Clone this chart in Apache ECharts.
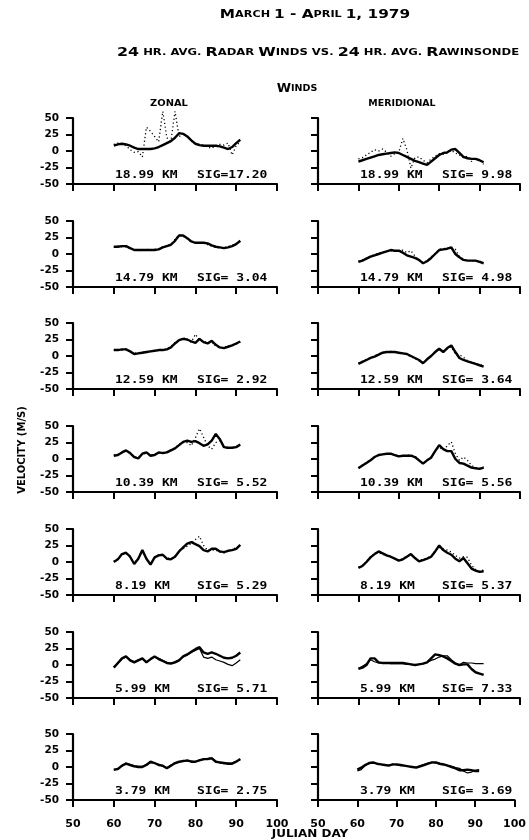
<!DOCTYPE html>
<html><head><meta charset="utf-8">
<script src="https://cdn.jsdelivr.net/npm/echarts@6/dist/echarts.min.js"></script>
<style>html,body{margin:0;padding:0;background:#fff}#c{width:529px;height:840px}</style>
</head><body><div id="c"></div>
<script>
// ---- data ----
const days = [60,61,62,63,64,65,66,67,68,69,70,71,72,73,74,75,76,77,78,79,80,81,82,83,84,85,86,87,88,89,90,91];
const heights = ["18.99","14.79","12.59","10.39","8.19","5.99","3.79"];
const sigZonal = ["17.20"," 3.04"," 2.92"," 5.52"," 5.29"," 5.71"," 2.75"];
const sigMerid = [" 9.98"," 4.98"," 3.64"," 5.56"," 5.37"," 7.33"," 3.69"];
const xTicks = [50,60,70,80,90,100];
const yTicks = [-50,-25,0,25,50];

// zonal, radar (solid) and rawinsonde (dotted)
const zonal1899Radar = [8,10,11,10,8,5,3,3,3,3,4,6,9,12,15,20,27,26,22,16,11,9,8,8,8,8,7,5,3,6,12,17];
const zonal1899Rawin = [10,12,10,8,2,-2,-1,-9,36,30,22,14,60,20,15,60,22,25,22,15,11,10,9,6,4,8,10,9,12,-6,8,14];
const zonal1479Radar = [11,11,12,12,9,6,6,6,6,6,6,7,10,12,14,20,28,28,24,19,17,17,17,16,13,11,10,9,10,12,15,20];
const zonal1479Rawin = [10,12,11,11,8,7,5,6,7,6,7,8,11,12,15,22,29,27,23,18,18,16,18,14,12,10,9,10,11,13,16,19];
const zonal1259Radar = [9,9,10,10,7,3,4,5,6,7,8,9,9,10,13,19,24,26,25,22,20,26,21,19,23,17,13,12,14,16,19,22];
const zonal1259Rawin = [9,10,9,11,6,4,5,6,5,7,8,8,10,11,14,20,23,28,24,21,33,24,22,20,21,15,12,13,15,17,18,21];
const zonal1039Radar = [5,6,10,13,9,3,1,8,10,5,6,10,9,10,13,16,21,26,28,26,27,24,20,22,28,38,30,18,17,17,18,22];
const zonal1039Rawin = [6,7,9,12,8,4,2,7,9,6,7,9,10,11,14,17,22,25,25,20,32,46,33,20,15,25,28,17,16,17,19,21];
const zonal0819Radar = [0,4,12,14,8,-3,5,18,5,-4,7,10,11,5,4,8,16,22,28,30,27,24,18,16,20,20,16,15,17,18,20,26];
const zonal0819Rawin = [1,5,11,13,7,-2,6,16,6,-3,6,11,10,6,5,9,17,20,24,28,34,39,25,18,18,18,15,14,16,19,22,24];
const zonal0599Radar = [-4,3,10,13,7,4,7,10,4,9,13,9,6,3,2,4,7,13,16,20,24,27,19,17,19,17,14,11,10,11,14,19];
const zonal0599Rawin = [-3,2,9,12,8,5,8,9,5,8,12,10,7,4,3,5,8,12,15,19,22,25,12,10,12,8,6,4,1,-1,3,8];
const zonal0379Radar = [-4,-3,2,5,3,1,0,0,3,8,6,3,2,-2,2,6,8,9,10,8,8,10,12,12,13,8,7,6,5,5,8,12];
const zonal0379Rawin = [-5,-3,1,6,4,2,1,1,4,7,6,4,1,-1,3,5,7,10,9,9,8,11,11,13,14,9,6,5,6,6,9,11];

// meridional, radar (solid) and rawinsonde (dotted)
const merid1899Radar = [-16,-14,-12,-10,-8,-6,-5,-4,-3,-2,-3,-6,-9,-12,-15,-17,-19,-21,-16,-11,-6,-3,-2,2,3,-3,-9,-11,-12,-12,-14,-17];
const merid1899Rawin = [-12,-10,-6,-2,2,0,3,-2,-8,-4,-2,19,2,-26,-10,-9,-14,-18,-12,-8,-4,-5,-3,1,-3,-6,-10,-8,-16,-11,-14,-20];
const merid1479Radar = [-12,-10,-7,-4,-2,0,2,4,6,5,5,2,-2,-4,-6,-9,-14,-11,-6,0,6,7,8,10,0,-5,-9,-10,-10,-10,-12,-14];
const merid1479Rawin = [-11,-9,-6,-3,-1,1,3,4,5,4,4,6,2,5,-3,-10,-13,-10,-5,1,7,8,9,8,7,-4,-8,-9,-11,-10,-11,-13];
const merid1259Radar = [-12,-9,-6,-3,-1,2,5,6,6,6,5,4,3,0,-3,-6,-11,-5,0,6,11,6,12,16,6,-3,-6,-8,-10,-12,-14,-16];
const merid1259Rawin = [-11,-8,-5,-2,0,3,5,6,7,6,5,4,2,-1,-4,-7,-10,-5,1,7,10,7,11,14,3,2,-2,-7,-9,-12,-13,-15];
const merid1039Radar = [-14,-10,-6,-2,3,6,7,8,8,6,4,5,5,5,3,-2,-7,-2,2,12,21,15,12,12,0,-6,-7,-10,-13,-14,-15,-13];
const merid1039Rawin = [-13,-9,-5,-1,3,5,7,8,7,6,5,5,6,6,4,-1,-6,-2,3,12,18,14,20,26,8,-2,3,-2,-10,-13,-14,-12];
const merid0819Radar = [-9,-6,0,7,12,16,13,10,8,5,2,4,8,12,6,1,3,5,8,16,25,18,14,11,5,1,6,-2,-10,-13,-15,-14];
const merid0819Rawin = [-8,-5,1,8,12,14,12,9,7,5,3,5,9,11,6,2,4,6,9,17,22,20,18,15,10,6,8,7,-5,-11,-14,-12];
const merid0599Radar = [-6,-4,0,10,10,4,3,3,3,3,3,3,2,1,0,1,2,4,10,16,15,13,10,6,2,0,1,1,-6,-11,-13,-15];
const merid0599Rawin = [-5,-2,2,8,5,3,3,3,2,2,2,2,1,1,0,1,2,4,7,9,12,14,14,8,3,0,4,3,3,2,2,2];
const merid0379Radar = [-4,-1,3,6,7,5,4,3,2,4,4,3,2,1,0,-1,1,3,5,7,7,5,4,2,0,-2,-5,-5,-4,-5,-6,-6];
const merid0379Rawin = [-6,-4,2,5,6,5,4,3,3,4,3,2,2,1,0,0,2,4,6,7,6,4,3,2,1,-1,-2,-6,-9,-8,-5,-4];

const zonalRadar = [zonal1899Radar,zonal1479Radar,zonal1259Radar,zonal1039Radar,zonal0819Radar,zonal0599Radar,zonal0379Radar];
const zonalRawin = [zonal1899Rawin,zonal1479Rawin,zonal1259Rawin,zonal1039Rawin,zonal0819Rawin,zonal0599Rawin,zonal0379Rawin];
const meridRadar = [merid1899Radar,merid1479Radar,merid1259Radar,merid1039Radar,merid0819Radar,merid0599Radar,merid0379Radar];
const meridRawin = [merid1899Rawin,merid1479Rawin,merid1259Rawin,merid1039Rawin,merid0819Rawin,merid0599Rawin,merid0379Rawin];

// ---- layout ----
const colLeft = [73, 318];
const colWidth = [204, 202];
const rowTop0 = 118, rowPitch = 102.7, plotH = 66;
const FONT = 'DejaVu Sans';
const MONO = 'DejaVu Sans Mono';

const grids = [], xAxes = [], yAxes = [], series = [], graphics = [];
function pairs(arr){ return days.map((d,i)=>[d, arr[i]]); }

for (let r = 0; r < 7; r++) {
  for (let c = 0; c < 2; c++) {
    const k = r*2 + c;
    const top = Math.round(rowTop0 + r*rowPitch);
    grids.push({left: colLeft[c], top: top, width: colWidth[c], height: plotH, containLabel: false});
    xAxes.push({
      type: 'value', gridIndex: k, min: xTicks[0], max: xTicks[xTicks.length-1], interval: 10,
      axisLine: {show: true, onZero: false, lineStyle: {color: '#000', width: 2.2}},
      axisTick: {show: true, inside: false, length: 7, lineStyle: {color: '#000', width: 2}},
      axisLabel: {show: r === 6, margin: 19, color: '#000', fontFamily: FONT, fontWeight: 'bold', fontSize: 11},
      splitLine: {show: false}
    });
    yAxes.push({
      type: 'value', gridIndex: k, min: yTicks[0], max: yTicks[yTicks.length-1], interval: 25,
      axisLine: {show: true, onZero: false, lineStyle: {color: '#000', width: 2.2}},
      axisTick: {show: true, inside: false, length: 7, lineStyle: {color: '#000', width: 2}},
      axisLabel: {show: c === 0, margin: 14, color: '#000', fontFamily: FONT, fontWeight: 'bold', fontSize: 10.5},
      splitLine: {show: false}
    });
    const radar = c === 0 ? zonalRadar[r] : meridRadar[r];
    const rawin = c === 0 ? zonalRawin[r] : meridRawin[r];
    const thinSolid = r >= 5;
    series.push({
      type: 'line', xAxisIndex: k, yAxisIndex: k, data: pairs(rawin), showSymbol: false, clip: false,
      lineStyle: {color: '#000', width: thinSolid ? 1.2 : 1.3, type: thinSolid ? 'solid' : [1.2, 2.6]},
      animation: false, z: 2
    });
    series.push({
      type: 'line', xAxisIndex: k, yAxisIndex: k, data: pairs(radar), showSymbol: false,
      lineStyle: {color: '#000', width: 2.4}, animation: false, z: 3
    });
    const ty = top + 52;
    const sig = c === 0 ? sigZonal[r] : sigMerid[r];
    graphics.push({type: 'text', x: colLeft[c] + 42, y: ty, scaleX: 1.3,
      style: {text: heights[r] + ' KM', fill: '#000', font: 'bold 10px "' + MONO + '"', textVerticalAlign: 'top'}});
    graphics.push({type: 'text', x: colLeft[c] + 124, y: ty, scaleX: 1.3,
      style: {text: 'SIG=' + sig, fill: '#000', font: 'bold 10px "' + MONO + '"', textVerticalAlign: 'top'}});
  }
}

const richBig = {fontFamily: FONT, fontWeight: 'bold', fontSize: 13, color: '#000'};
const richSmall = {fontFamily: FONT, fontWeight: 'bold', fontSize: 9.5, color: '#000'};
graphics.push({type: 'text', x: 315, y: 15, scaleX: 1.18, style: {
  text: '{b|M}{s|ARCH} {b|1 - A}{s|PRIL} {b|1, 1979}', rich: {b: richBig, s: richSmall},
  textAlign: 'center', textVerticalAlign: 'middle'}});
graphics.push({type: 'text', x: 117, y: 53, scaleX: 1.22, style: {
  text: '{b|24} {s|HR. AVG.} {b|R}{s|ADAR} {b|W}{s|INDS} {s|VS.} {b|24} {s|HR. AVG.} {b|R}{s|AWINSONDE}',
  rich: {b: richBig, s: richSmall}, textAlign: 'left', textVerticalAlign: 'middle'}});
graphics.push({type: 'text', x: 297, y: 89, style: {
  text: '{b|W}{s|INDS}', rich: {b: richBig, s: richSmall}, textAlign: 'center', textVerticalAlign: 'middle'}});
graphics.push({type: 'text', x: 169, y: 104, scaleX: 1.1, style: {
  text: 'ZONAL', fill: '#000', font: 'bold 9px "' + FONT + '"', textAlign: 'center', textVerticalAlign: 'middle'}});
graphics.push({type: 'text', x: 402, y: 104, scaleX: 1.05, style: {
  text: 'MERIDIONAL', fill: '#000', font: 'bold 9px "' + FONT + '"', textAlign: 'center', textVerticalAlign: 'middle'}});
graphics.push({type: 'text', x: 22, y: 450, rotation: Math.PI/2, style: {
  text: 'VELOCITY (M/S)', fill: '#000', font: 'bold 10px "' + FONT + '"', textAlign: 'center', textVerticalAlign: 'middle'}});
graphics.push({type: 'text', x: 310, y: 834, scaleX: 1.2, style: {
  text: 'JULIAN DAY', fill: '#000', font: 'bold 10px "' + FONT + '"', textAlign: 'center', textVerticalAlign: 'middle'}});

const chart = echarts.init(document.getElementById('c'), null, {renderer: 'canvas'});
chart.setOption({
  backgroundColor: '#fff',
  animation: false,
  grid: grids, xAxis: xAxes, yAxis: yAxes, series: series,
  graphic: {elements: graphics}
});
</script></body></html>
